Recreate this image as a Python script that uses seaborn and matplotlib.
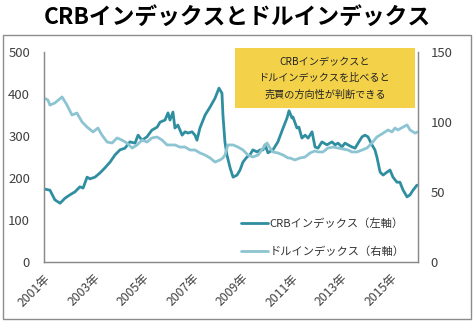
import matplotlib
matplotlib.use("Agg")
import matplotlib.pyplot as plt
import matplotlib.patches as mpatches
import seaborn as sns
import pandas as pd

# CRB index (left axis), sampled at decimal-year positions
crb_year = [2001.00, 2001.24, 2001.44, 2001.65, 2001.85, 2002.05, 2002.25, 2002.45, 2002.58, 2002.74,
            2002.86, 2003.06, 2003.26, 2003.46, 2003.67, 2003.87, 2004.07, 2004.27, 2004.47, 2004.68,
            2004.80, 2004.96, 2005.16, 2005.36, 2005.57, 2005.69, 2005.89, 2006.01, 2006.09, 2006.21,
            2006.29, 2006.41, 2006.58, 2006.70, 2006.82, 2006.98, 2007.10, 2007.18, 2007.30, 2007.51,
            2007.71, 2007.91, 2008.07, 2008.19, 2008.23, 2008.31, 2008.39, 2008.52, 2008.64, 2008.80,
            2008.92, 2009.04, 2009.20, 2009.32, 2009.44, 2009.61, 2009.73, 2009.85, 2009.93, 2010.05,
            2010.25, 2010.45, 2010.66, 2010.82, 2010.90, 2011.02, 2011.06, 2011.22, 2011.30, 2011.42,
            2011.55, 2011.67, 2011.83, 2011.95, 2012.07, 2012.23, 2012.43, 2012.64, 2012.76, 2012.88,
            2013.04, 2013.16, 2013.28, 2013.44, 2013.57, 2013.69, 2013.85, 2013.97, 2014.09, 2014.25,
            2014.37, 2014.45, 2014.58, 2014.70, 2014.86, 2014.98, 2015.10, 2015.26, 2015.38, 2015.51,
            2015.67, 2015.79, 2015.91, 2016.07]
crb_value = [174, 171, 148, 140, 152, 160, 167, 179, 176, 202,
             198, 202, 212, 224, 238, 255, 267, 271, 286, 283,
             302, 290, 298, 314, 321, 333, 338, 355, 338, 357,
             319, 326, 302, 310, 307, 310, 302, 290, 319, 350,
             369, 390, 414, 402, 350, 286, 255, 224, 202, 207,
             219, 238, 250, 255, 267, 262, 267, 267, 279, 260,
             267, 286, 319, 343, 360, 343, 345, 319, 321, 295,
             302, 295, 310, 274, 271, 286, 279, 286, 279, 283,
             274, 283, 279, 274, 271, 283, 298, 302, 298, 279,
             267, 250, 214, 207, 214, 219, 202, 190, 190, 171,
             155, 160, 171, 183]

# Dollar index (right axis)
usd_year = [2001.00, 2001.16, 2001.24, 2001.44, 2001.73, 2001.93, 2002.13, 2002.33, 2002.54, 2002.74,
            2002.98, 2003.18, 2003.34, 2003.55, 2003.75, 2003.95, 2004.15, 2004.35, 2004.56, 2004.76,
            2004.96, 2005.16, 2005.36, 2005.57, 2005.77, 2005.97, 2006.09, 2006.29, 2006.49, 2006.70,
            2006.90, 2007.10, 2007.30, 2007.51, 2007.71, 2007.91, 2008.11, 2008.23, 2008.31, 2008.43,
            2008.64, 2008.84, 2009.04, 2009.24, 2009.44, 2009.65, 2009.85, 2010.01, 2010.13, 2010.25,
            2010.45, 2010.66, 2010.86, 2010.94, 2011.14, 2011.34, 2011.55, 2011.75, 2011.95, 2012.07,
            2012.27, 2012.47, 2012.68, 2012.88, 2013.08, 2013.28, 2013.44, 2013.65, 2013.85, 2014.05,
            2014.25, 2014.45, 2014.58, 2014.78, 2014.90, 2015.06, 2015.18, 2015.30, 2015.51, 2015.67,
            2015.79, 2015.99, 2016.11]
usd_value = [117.1, 115.7, 112.1, 113.6, 117.9, 112.1, 105.0, 106.4, 100.0, 96.4,
             92.9, 95.7, 90.7, 85.7, 85.0, 88.6, 87.1, 85.0, 81.4, 83.6,
             87.1, 85.7, 88.6, 89.3, 87.1, 83.6, 83.6, 83.6, 82.1, 82.1,
             80.0, 80.0, 77.9, 76.4, 74.3, 71.4, 72.9, 74.3, 76.4, 83.6,
             83.6, 82.1, 80.0, 76.4, 75.0, 76.4, 81.4, 85.0, 81.4, 78.6,
             77.9, 76.4, 74.3, 74.3, 72.9, 74.3, 75.0, 77.9, 79.3, 78.6,
             78.6, 81.4, 82.1, 81.4, 80.7, 80.0, 78.6, 78.6, 80.0, 81.4,
             85.0, 89.3, 90.7, 92.9, 94.3, 92.9, 95.7, 94.3, 96.4, 97.9,
             94.3, 92.1, 92.9]

year_ticks = [2001, 2003, 2005, 2007, 2009, 2011, 2013, 2015]
year_labels = [f"{y}年" for y in year_ticks]
left_ticks = [0, 100, 200, 300, 400, 500]
right_ticks = [0, 50, 100, 150]

title_text = "CRBインデックスとドルインデックス"
note_text = "CRBインデックスと\nドルインデックスを比べると\n売買の方向性が判断できる"
crb_label = "CRBインデックス（左軸）"
usd_label = "ドルインデックス（右軸）"

sns.set_theme(style="white")
plt.rcParams["font.family"] = ["Noto Sans CJK JP", "DejaVu Sans"]

crb_color = "#2f8ea0"
usd_color = "#8cc4d2"
text_color = "#404040"
spine_color = "#8a8a8a"

W, H = 474, 323
fig = plt.figure(figsize=(W / 100, H / 100), dpi=100)
ax = fig.add_axes([44 / W, 1 - 262 / H, (418 - 44) / W, (262 - 52) / H])
ax2 = ax.twinx()

crb_df = pd.DataFrame({"year": crb_year, "value": crb_value})
usd_df = pd.DataFrame({"year": usd_year, "value": usd_value})

sns.lineplot(data=crb_df, x="year", y="value", ax=ax, color=crb_color, lw=2.0,
             label=crb_label, legend=False)
sns.lineplot(data=usd_df, x="year", y="value", ax=ax2, color=usd_color, lw=2.0,
             label=usd_label, legend=False)

ax.set_xlim(2001, 2001 + (418 - 44) / 24.75)
ax.set_ylim(0, 500)
ax2.set_ylim(0, 150)
ax.set_xlabel("")
ax.set_ylabel("")
ax2.set_ylabel("")

ax.set_yticks(left_ticks)
ax.set_yticklabels([str(v) for v in left_ticks])
ax2.set_yticks(right_ticks)
ax2.set_yticklabels([str(v) for v in right_ticks])
ax.set_xticks(year_ticks)
ax.set_xticklabels(year_labels, rotation=45, ha="right", rotation_mode="anchor")

for a in (ax, ax2):
    a.spines["top"].set_visible(False)
    for s in ("left", "right", "bottom"):
        a.spines[s].set_color(spine_color)
        a.spines[s].set_linewidth(0.9)
    a.grid(False)

ax.tick_params(axis="x", which="major", direction="out", length=4, width=0.8,
               color=spine_color, labelsize=8.8, labelcolor=text_color, pad=3)
ax.tick_params(axis="y", length=0, labelsize=9.5, labelcolor=text_color, pad=10)
ax2.tick_params(axis="y", length=0, labelsize=9.5, labelcolor=text_color, pad=9)

# Combined legend in the lower middle of the plot
h1, l1 = ax.get_legend_handles_labels()
h2, l2 = ax2.get_legend_handles_labels()
leg = ax2.legend(h1 + h2, l1 + l2, loc="upper left",
                 bbox_to_anchor=(241 / W, 1 - 218 / H), bbox_transform=fig.transFigure,
                 frameon=False, fontsize=8.1, handlelength=2.4, handletextpad=0.15,
                 labelspacing=1.5, borderpad=0, borderaxespad=0)
for t in leg.get_texts():
    t.set_color("#333333")

# Yellow note box
note = mpatches.Rectangle((235 / W, 1 - 108 / H), (415 - 235) / W, (108 - 48) / H,
                          transform=fig.transFigure, facecolor="#f3d24a", edgecolor="none",
                          zorder=5)
fig.patches.append(note)
fig.text(325 / W, 1 - 78.5 / H, note_text, ha="center", va="center", fontsize=7.3,
         color="#222222", linespacing=1.75, zorder=6)

# Title
fig.text(237 / W, 1 - 17 / H, title_text, ha="center", va="center", fontsize=16.4,
         fontweight="bold", color="#000000")

# Outer frame around the chart
frame = mpatches.Rectangle((3 / W, 1 - 319 / H), (471 - 3) / W, (319 - 35) / H,
                           transform=fig.transFigure, facecolor="none", edgecolor="#8c8c8c",
                           linewidth=1.0)
fig.patches.append(frame)

fig.savefig("out.png", dpi=100, facecolor="white")
